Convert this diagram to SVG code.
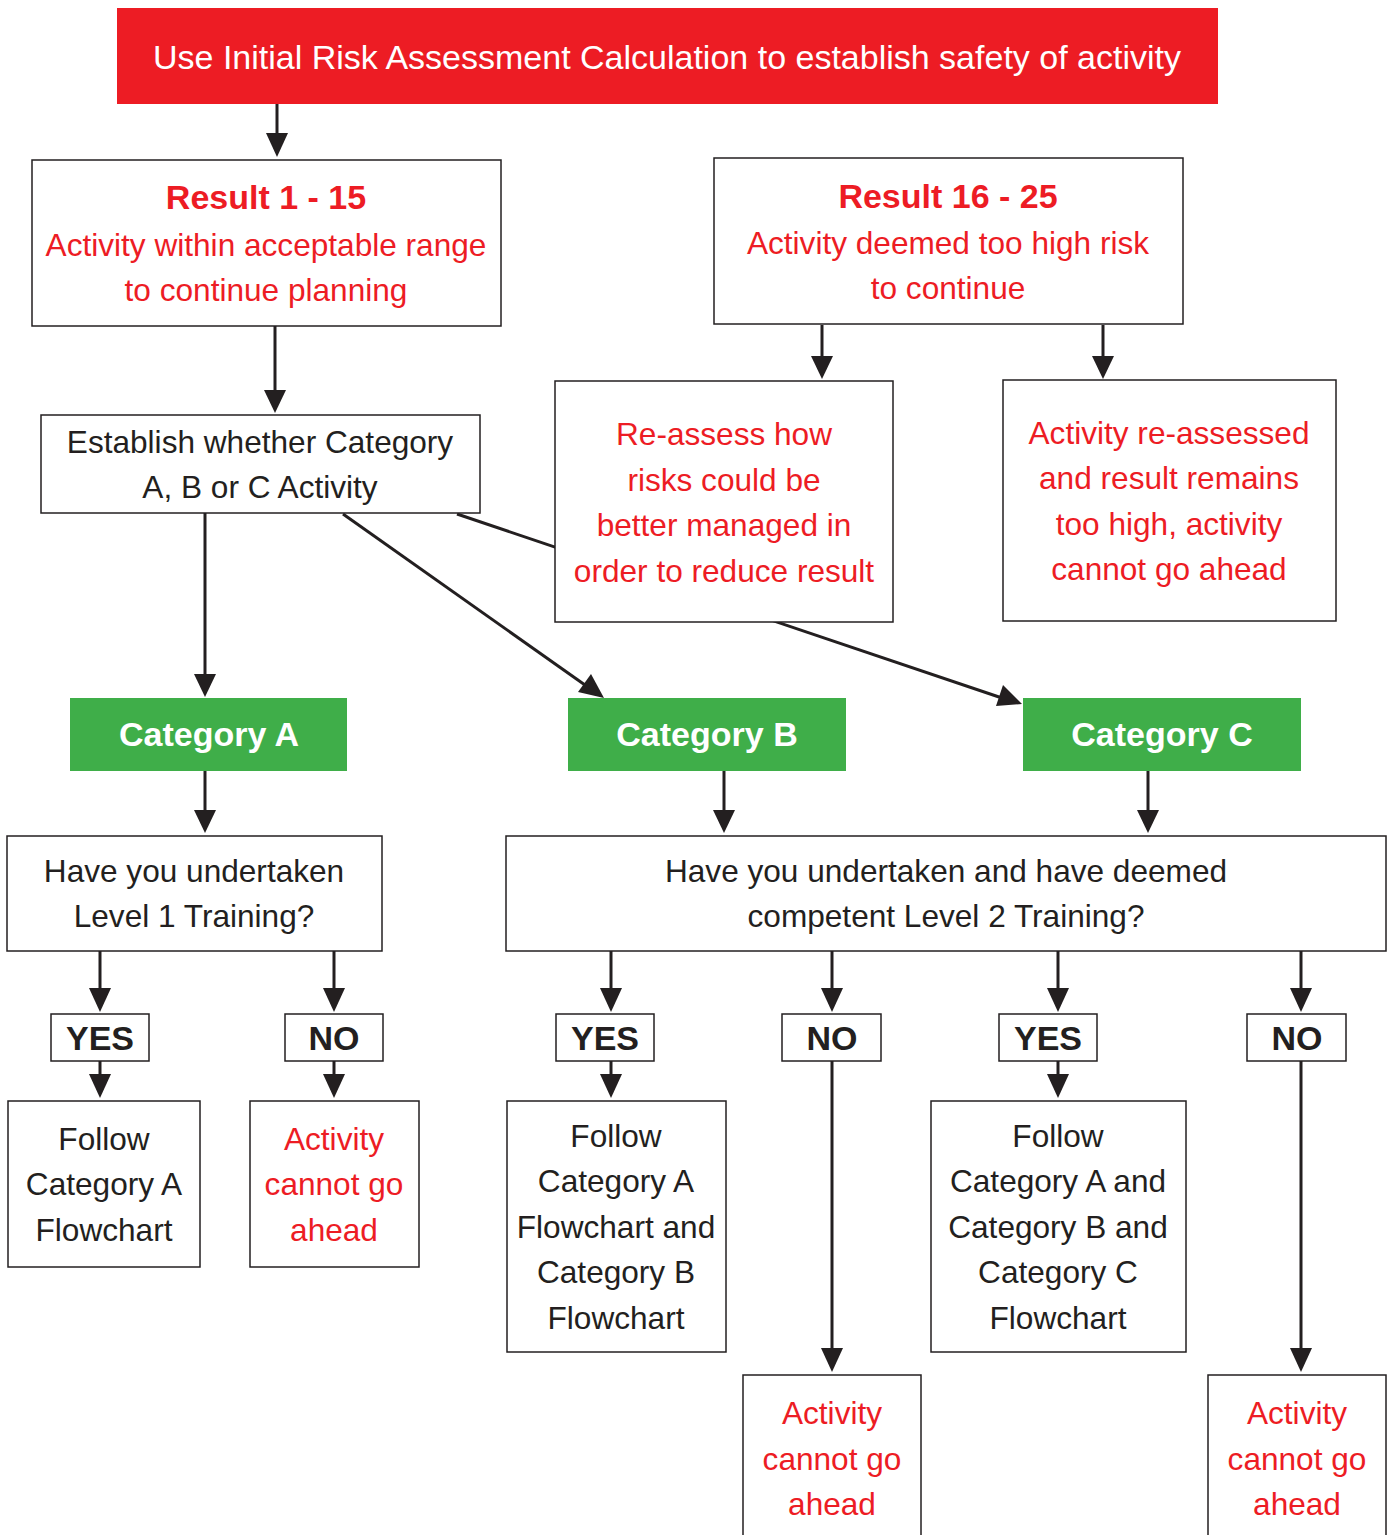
<svg xmlns="http://www.w3.org/2000/svg" width="1394" height="1535" viewBox="0 0 1394 1535">
<defs>
<style>
.box{fill:#fff;stroke:#231F20;stroke-width:1.5}
.red{fill:#ED1C24}
.green{fill:#3FAE49}
.t{font-family:"Liberation Sans",Arial,sans-serif;font-size:31.6px;text-anchor:middle}
.blk{fill:#231F20}
.rt{fill:#ED1C24}
.wt{fill:#fff}
.b{font-weight:bold;font-size:34px}
.c{stroke:#231F20;stroke-width:3;fill:none}
.h{fill:#231F20}
</style>
</defs>
<rect width="1394" height="1535" fill="#fff"/>
<g id="connectors">
<line class="c" x1="277" y1="97" x2="277" y2="135"/>
<path class="h" d="M266,133 L288,133 L277,157 Z"/>
<line class="c" x1="275" y1="326" x2="275" y2="392"/>
<path class="h" d="M264,390 L286,390 L275,413 Z"/>
<line class="c" x1="822" y1="325" x2="822" y2="358"/>
<path class="h" d="M811,356 L833,356 L822,379 Z"/>
<line class="c" x1="1103" y1="325" x2="1103" y2="358"/>
<path class="h" d="M1092,356 L1114,356 L1103,379 Z"/>
<line class="c" x1="205" y1="513" x2="205" y2="676"/>
<path class="h" d="M194,674 L216,674 L205,697 Z"/>
<line class="c" x1="343" y1="514" x2="585" y2="685"/>
<path class="h" d="M578,692 L591,674 L604,698 Z"/>
<line class="c" x1="457" y1="514" x2="1002" y2="698"/>
<path class="h" d="M996,706 L1003,685 L1022,704 Z"/>
<line class="c" x1="205" y1="771" x2="205" y2="812"/>
<path class="h" d="M194,810 L216,810 L205,833 Z"/>
<line class="c" x1="724" y1="771" x2="724" y2="812"/>
<path class="h" d="M713,810 L735,810 L724,833 Z"/>
<line class="c" x1="1148" y1="771" x2="1148" y2="812"/>
<path class="h" d="M1137,810 L1159,810 L1148,833 Z"/>
<line class="c" x1="100" y1="951" x2="100" y2="990"/>
<path class="h" d="M89,988 L111,988 L100,1012 Z"/>
<line class="c" x1="334" y1="951" x2="334" y2="990"/>
<path class="h" d="M323,988 L345,988 L334,1012 Z"/>
<line class="c" x1="611" y1="951" x2="611" y2="990"/>
<path class="h" d="M600,988 L622,988 L611,1012 Z"/>
<line class="c" x1="832" y1="951" x2="832" y2="990"/>
<path class="h" d="M821,988 L843,988 L832,1012 Z"/>
<line class="c" x1="1058" y1="951" x2="1058" y2="990"/>
<path class="h" d="M1047,988 L1069,988 L1058,1012 Z"/>
<line class="c" x1="1301" y1="951" x2="1301" y2="990"/>
<path class="h" d="M1290,988 L1312,988 L1301,1012 Z"/>
<line class="c" x1="100" y1="1061" x2="100" y2="1076"/>
<path class="h" d="M89,1074 L111,1074 L100,1098 Z"/>
<line class="c" x1="334" y1="1061" x2="334" y2="1076"/>
<path class="h" d="M323,1074 L345,1074 L334,1098 Z"/>
<line class="c" x1="611" y1="1061" x2="611" y2="1076"/>
<path class="h" d="M600,1074 L622,1074 L611,1098 Z"/>
<line class="c" x1="1058" y1="1061" x2="1058" y2="1076"/>
<path class="h" d="M1047,1074 L1069,1074 L1058,1098 Z"/>
<line class="c" x1="832" y1="1061" x2="832" y2="1350"/>
<path class="h" d="M821,1348 L843,1348 L832,1372 Z"/>
<line class="c" x1="1301" y1="1061" x2="1301" y2="1350"/>
<path class="h" d="M1290,1348 L1312,1348 L1301,1372 Z"/>
</g>
<g id="start">
<rect class="red" x="117" y="8" width="1101" height="96"/>
<text class="t wt" x="667" y="69" style="font-size:34px">Use Initial Risk Assessment Calculation to establish safety of activity</text>
</g>
<g id="result1">
<rect class="box" x="32" y="160" width="469" height="166"/>
<text class="t rt b" x="266" y="209">Result 1 - 15</text>
<text class="t rt" x="266" y="256">Activity within acceptable range</text>
<text class="t rt" x="266" y="301">to continue planning</text>
</g>
<g id="result2">
<rect class="box" x="714" y="158" width="469" height="166"/>
<text class="t rt b" x="948" y="208">Result 16 - 25</text>
<text class="t rt" x="948" y="254">Activity deemed too high risk</text>
<text class="t rt" x="948" y="299">to continue</text>
</g>
<g id="establish">
<rect class="box" x="41" y="415" width="439" height="98"/>
<text class="t blk" x="260" y="453">Establish whether Category</text>
<text class="t blk" x="260" y="498">A, B or C Activity</text>
</g>
<g id="reassess">
<rect class="box" x="555" y="381" width="338" height="241"/>
<text class="t rt" x="724" y="445">Re-assess how</text>
<text class="t rt" x="724" y="491">risks could be</text>
<text class="t rt" x="724" y="536">better managed in</text>
<text class="t rt" x="724" y="582">order to reduce result</text>
</g>
<g id="reassessed">
<rect class="box" x="1003" y="380" width="333" height="241"/>
<text class="t rt" x="1169" y="444">Activity re-assessed</text>
<text class="t rt" x="1169" y="489">and result remains</text>
<text class="t rt" x="1169" y="535">too high, activity</text>
<text class="t rt" x="1169" y="580">cannot go ahead</text>
</g>
<g id="catA">
<rect class="green" x="70" y="698" width="277" height="73"/>
<text class="t wt b" x="209" y="746">Category A</text>
</g>
<g id="catB">
<rect class="green" x="568" y="698" width="278" height="73"/>
<text class="t wt b" x="707" y="746">Category B</text>
</g>
<g id="catC">
<rect class="green" x="1023" y="698" width="278" height="73"/>
<text class="t wt b" x="1162" y="746">Category C</text>
</g>
<g id="level1">
<rect class="box" x="7" y="836" width="375" height="115"/>
<text class="t blk" x="194" y="882">Have you undertaken</text>
<text class="t blk" x="194" y="927">Level 1 Training?</text>
</g>
<g id="level2">
<rect class="box" x="506" y="836" width="880" height="115"/>
<text class="t blk" x="946" y="882">Have you undertaken and have deemed</text>
<text class="t blk" x="946" y="927">competent Level 2 Training?</text>
</g>
<g id="yes1">
<rect class="box" x="51" y="1014" width="98" height="47"/>
<text class="t blk b" x="100" y="1050">YES</text>
</g>
<g id="no1">
<rect class="box" x="285" y="1014" width="98" height="47"/>
<text class="t blk b" x="334" y="1050">NO</text>
</g>
<g id="yes2">
<rect class="box" x="556" y="1014" width="98" height="47"/>
<text class="t blk b" x="605" y="1050">YES</text>
</g>
<g id="no2">
<rect class="box" x="782" y="1014" width="99" height="47"/>
<text class="t blk b" x="832" y="1050">NO</text>
</g>
<g id="yes3">
<rect class="box" x="999" y="1014" width="98" height="47"/>
<text class="t blk b" x="1048" y="1050">YES</text>
</g>
<g id="no3">
<rect class="box" x="1247" y="1014" width="99" height="47"/>
<text class="t blk b" x="1297" y="1050">NO</text>
</g>
<g id="followA">
<rect class="box" x="8" y="1101" width="192" height="166"/>
<text class="t blk" x="104" y="1150">Follow</text>
<text class="t blk" x="104" y="1195">Category A</text>
<text class="t blk" x="104" y="1241">Flowchart</text>
</g>
<g id="cannot1">
<rect class="box" x="250" y="1101" width="169" height="166"/>
<text class="t rt" x="334" y="1150">Activity</text>
<text class="t rt" x="334" y="1195">cannot go</text>
<text class="t rt" x="334" y="1241">ahead</text>
</g>
<g id="followAB">
<rect class="box" x="507" y="1101" width="219" height="251"/>
<text class="t blk" x="616" y="1147">Follow</text>
<text class="t blk" x="616" y="1192">Category A</text>
<text class="t blk" x="616" y="1238">Flowchart and</text>
<text class="t blk" x="616" y="1283">Category B</text>
<text class="t blk" x="616" y="1329">Flowchart</text>
</g>
<g id="followABC">
<rect class="box" x="931" y="1101" width="255" height="251"/>
<text class="t blk" x="1058" y="1147">Follow</text>
<text class="t blk" x="1058" y="1192">Category A and</text>
<text class="t blk" x="1058" y="1238">Category B and</text>
<text class="t blk" x="1058" y="1283">Category C</text>
<text class="t blk" x="1058" y="1329">Flowchart</text>
</g>
<g id="cannot2">
<rect class="box" x="743" y="1375" width="178" height="170"/>
<text class="t rt" x="832" y="1424">Activity</text>
<text class="t rt" x="832" y="1470">cannot go</text>
<text class="t rt" x="832" y="1515">ahead</text>
</g>
<g id="cannot3">
<rect class="box" x="1208" y="1375" width="178" height="170"/>
<text class="t rt" x="1297" y="1424">Activity</text>
<text class="t rt" x="1297" y="1470">cannot go</text>
<text class="t rt" x="1297" y="1515">ahead</text>
</g>
</svg>
